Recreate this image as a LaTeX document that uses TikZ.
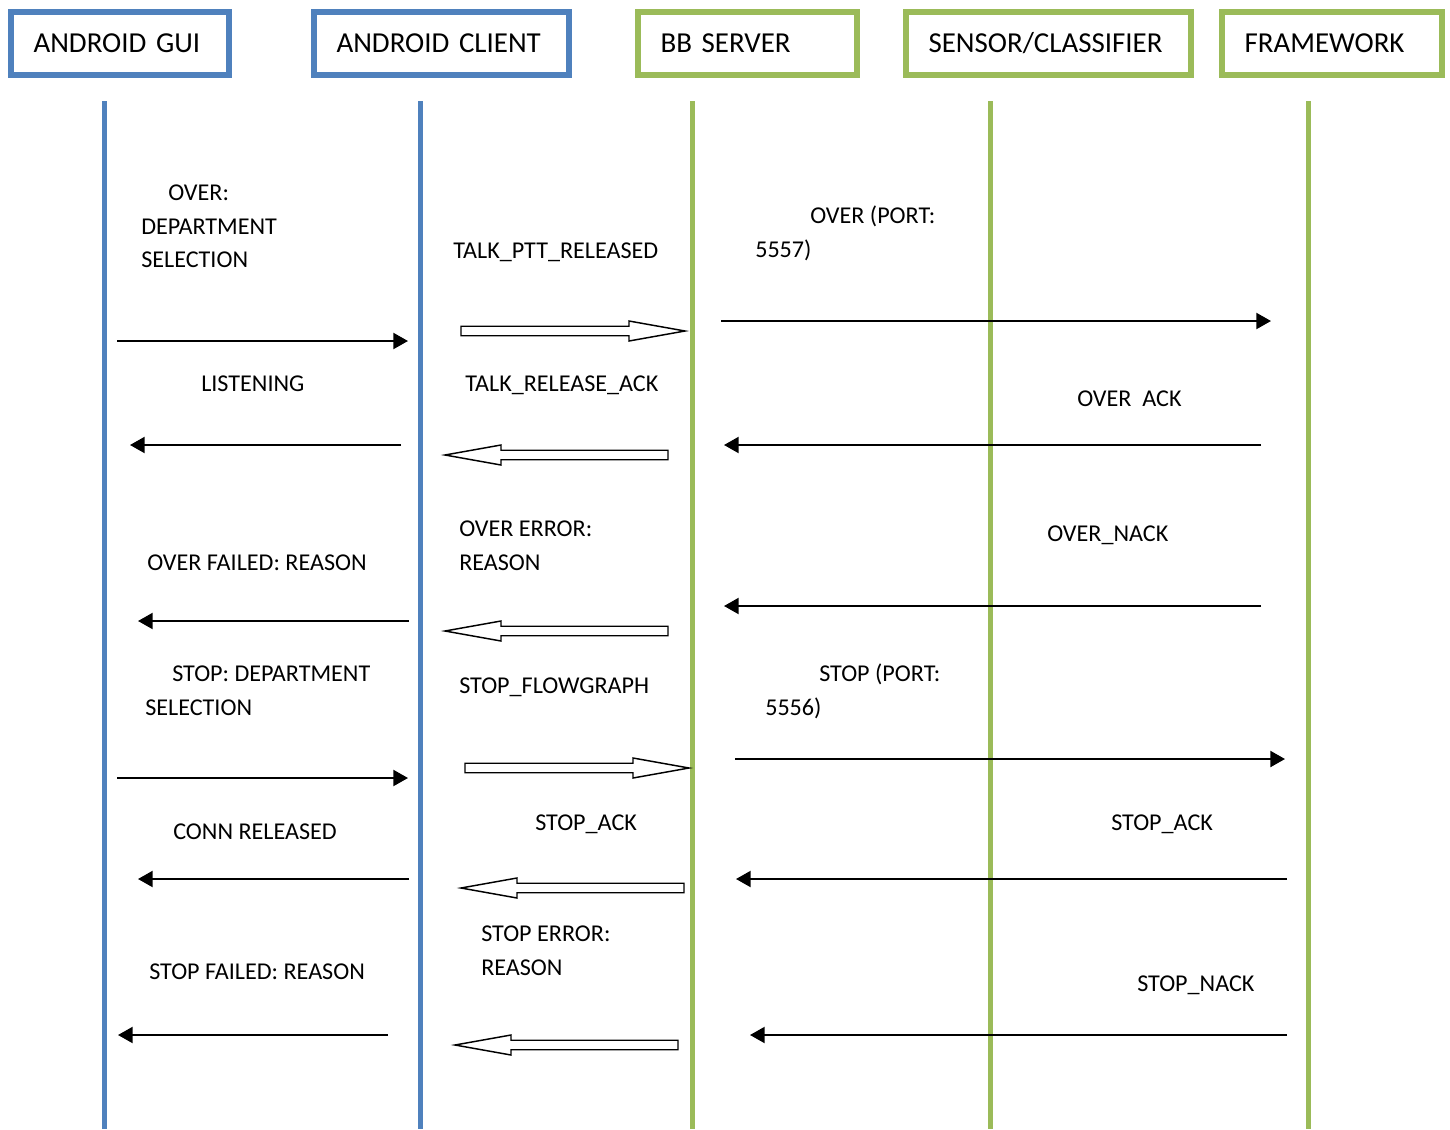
\documentclass[tikz,border=0pt]{standalone}
\usepackage{fontspec}
\setmainfont{Carlito}
\usetikzlibrary{arrows.meta}
\definecolor{lblue}{HTML}{4F81BD}
\definecolor{lgreen}{HTML}{9BBB59}

\begin{document}
\begin{tikzpicture}[x=0.75pt,y=-0.75pt,
  hdr/.style={draw=#1, line width=4.5pt, minimum height=47.25pt, inner xsep=16.9pt,
              inner ysep=0pt, anchor=west, align=left, font=\fontsize{21.7}{26}\selectfont},
  life/.style={draw=#1, line width=3.75pt},
  msg/.style={line width=1.6pt, -{Triangle[length=11pt,width=12pt]}},
  blk/.style={draw=black, line width=1.1pt, fill=white, line join=miter},
  lbl/.style={anchor=base west, inner sep=0pt, font=\fontsize{18.1}{22}\selectfont}]
\useasboundingbox (0,0) rectangle (1450,1129);

% participant boxes (west anchor sits on the outer edge of the frame)
\node[hdr=lblue,  text width=129.75pt] (gui) at (8,43.5)    {ANDROID GUI};
\node[hdr=lblue,  text width=157.5pt]  (cli) at (311,43.5)  {ANDROID CLIENT};
\node[hdr=lgreen, text width=130.5pt]  (srv) at (635,43.5)  {BB SERVER};
\node[hdr=lgreen, text width=180pt]    (sen) at (903,43.5)  {SENSOR/CLASSIFIER};
\node[hdr=lgreen, text width=131.25pt] (fw)  at (1219,43.5) {FRAMEWORK};

% lifelines
\foreach \n/\xx/\cc in {gui/104/lblue, cli/420/lblue, srv/692/lgreen, sen/990/lgreen, fw/1308/lgreen} {
  \coordinate (\n T) at (\xx,101);
  \coordinate (\n B) at (\xx,1129);
  \draw[life=\cc] (\n T) -- (\n B);
}

% plain messages
\foreach \n/\xa/\xb/\yy in {a1/117/408/341, a2/401/130/445, a3/409/138/621,
                            a4/117/408/778, a5/409/138/879, a6/388/118/1035,
                            c1/721/1271/321, c2/1261/724/445, c3/1261/724/606,
                            c4/735/1285/759, c5/1287/736/879, c6/1287/750/1035} {
  \coordinate (\n s) at (\xa,\yy);
  \coordinate (\n e) at (\xb,\yy);
  \draw[msg] (\n s) -- (\n e);
}

% block (outlined) messages between client and server
\foreach \xa/\xb/\yy in {461/685/331, 668/445/455, 668/445/631,
                         465/689/768, 684/461/888, 678/455/1045} {
  \pgfmathsetmacro\hb{\xb-56*sign(\xb-\xa)}
  \draw[blk] (\xa,\yy-4.75) -- (\hb,\yy-4.75) -- (\hb,\yy-10) -- (\xb,\yy)
             -- (\hb,\yy+10) -- (\hb,\yy+4.75) -- (\xa,\yy+4.75) -- cycle;
}

% labels
\node[lbl] (l1a) at (168,200.5) {OVER:};
\node[lbl] (l1b) at (141,234.5) {DEPARTMENT};
\node[lbl] (l1c) at (141,267.5) {SELECTION};
\node[lbl] (l2)  at (453,258.5) {TALK\_PTT\_RELEASED};
\node[lbl] (l3a) at (810,223.5) {OVER (PORT:};
\node[lbl] (l3b) at (755,257.5) {5557)};
\node[lbl] (l4)  at (201,391.5) {LISTENING};
\node[lbl] (l5)  at (465,391.5) {TALK\_RELEASE\_ACK};
\node[lbl] (l6)  at (1077,406.5) {OVER\ \ ACK};
\node[lbl] (l7a) at (459,536.5) {OVER ERROR:};
\node[lbl] (l7b) at (459,570.5) {REASON};
\node[lbl] (l8)  at (1047,541.5) {OVER\_NACK};
\node[lbl] (l9)  at (147,570.5) {OVER FAILED: REASON};
\node[lbl] (l10a) at (172,681.5) {STOP: DEPARTMENT};
\node[lbl] (l10b) at (145,715.5) {SELECTION};
\node[lbl] (l11) at (459,693.5) {STOP\_FLOWGRAPH};
\node[lbl] (l12a) at (819,681.5) {STOP (PORT:};
\node[lbl] (l12b) at (765,715.5) {5556)};
\node[lbl] (l13) at (173,839.5) {CONN RELEASED};
\node[lbl] (l14) at (535,830.5) {STOP\_ACK};
\node[lbl] (l15) at (1111,830.5) {STOP\_ACK};
\node[lbl] (l16a) at (481,941.5) {STOP ERROR:};
\node[lbl] (l16b) at (481,975.5) {REASON};
\node[lbl] (l17) at (149,979.5) {STOP FAILED: REASON};
\node[lbl] (l18) at (1137,991.5) {STOP\_NACK};
\end{tikzpicture}
\end{document}
